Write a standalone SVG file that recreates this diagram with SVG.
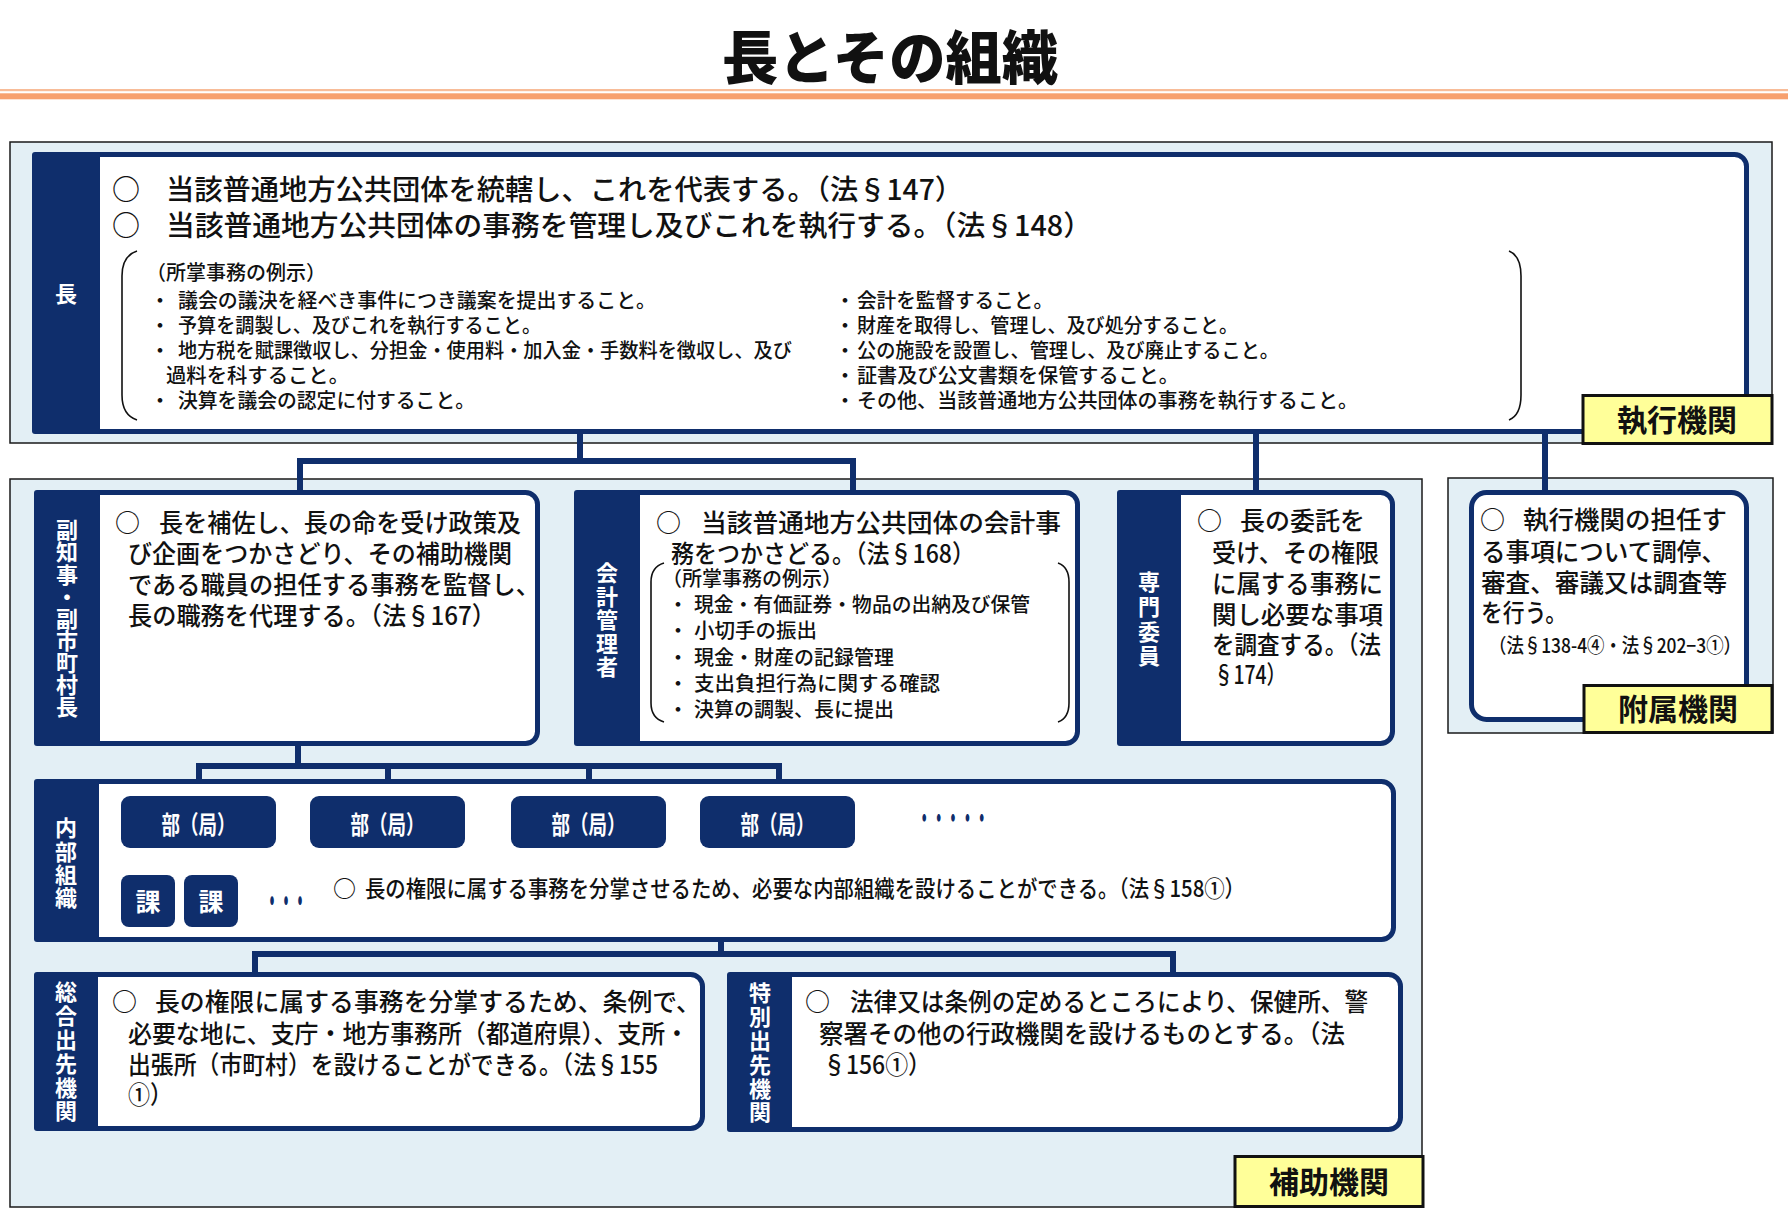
<svg xmlns="http://www.w3.org/2000/svg" width="1788" height="1226" viewBox="0 0 1788 1226">
<style>
.region{fill:#E3EFF5;stroke:#1a1a1a;stroke-width:1.5}
.card{fill:#fff;stroke:#0F2E6C;stroke-width:5}
.hdr{fill:#0F2E6C}
.box{fill:#0F2E6C}
.conn{fill:none;stroke:#0F2E6C;stroke-width:6}
.brk{fill:none;stroke:#111;stroke-width:1.6}
.lbl{fill:#FFFF99;stroke:#111;stroke-width:3}
text{font-family:"Noto Sans CJK JP","Noto Sans CJK SC",sans-serif;fill:#111;font-weight:500}
.title{font-size:58px;font-weight:900}
.f28{font-size:28px}
.f25{font-size:25px}
.f23{font-size:23px}
.f20{font-size:20px}
.vt{font-size:22px;font-weight:700;fill:#fff;text-anchor:middle}
.vv{font-size:22px;font-weight:700;fill:#fff;writing-mode:vertical-rl}
.wb{font-size:25px;font-weight:700;fill:#fff;text-anchor:middle}
.lt{font-size:30px;font-weight:700;text-anchor:middle}
.dot{font-weight:700;fill:#0F2E6C}
</style>

<!-- title -->
<text class="title" x="722" y="79" textLength="336" lengthAdjust="spacingAndGlyphs">長とその組織</text>
<rect x="0" y="89" width="1788" height="2.2" fill="#F8BC98"/>
<rect x="0" y="93.3" width="1788" height="6" fill="#F7A06E"/>

<!-- region boxes -->
<rect class="region" x="10" y="142" width="1762" height="301"/>
<rect class="region" x="10" y="479" width="1412" height="728"/>
<rect class="region" x="1448" y="478" width="325" height="255"/>

<!-- connectors -->
<g id="connectors">
<path class="conn" d="M580 434V461M300 492V461H853V492"/>
<path class="conn" d="M1256 434V492"/>
<path class="conn" d="M1545 434V492"/>
<path class="conn" d="M298 746V766M199 797V766H779V797M388 766V797M589 766V797"/>
<path class="conn" d="M200 848V862M148 876V862H212V876"/>
<path class="conn" d="M721 942V954M255 974V954H1173V974"/>
</g>

<!-- 長 -->
<g id="node-cho">
<rect class="card" x="34.5" y="154.5" width="1712" height="277" rx="12"/>
<rect class="hdr" x="32" y="152" width="68" height="282" rx="3"/>
<text class="vt" x="66" y="302">長</text>
<text class="f28"><tspan x="112" y="200">○</tspan><tspan x="166" y="200" textLength="797" lengthAdjust="spacingAndGlyphs">当該普通地方公共団体を統轄し、これを代表する。（法§147）</tspan><tspan x="112" y="236">○</tspan><tspan x="166" y="236" textLength="926" lengthAdjust="spacingAndGlyphs">当該普通地方公共団体の事務を管理し及びこれを執行する。（法§148）</tspan></text>
<path class="brk" d="M137 251Q122 256 122 276V395Q122 415 137 420"/>
<path class="brk" d="M1509 251Q1521 256 1521 276V395Q1521 415 1509 420"/>
<text class="f20"><tspan x="146" y="280" textLength="180" lengthAdjust="spacingAndGlyphs">（所掌事務の例示）</tspan><tspan x="150" y="308">・</tspan><tspan x="178" y="308" textLength="478" lengthAdjust="spacingAndGlyphs">議会の議決を経べき事件につき議案を提出すること。</tspan><tspan x="150" y="333">・</tspan><tspan x="178" y="333" textLength="363" lengthAdjust="spacingAndGlyphs">予算を調製し、及びこれを執行すること。</tspan><tspan x="150" y="358">・</tspan><tspan x="178" y="358" textLength="614" lengthAdjust="spacingAndGlyphs">地方税を賦課徴収し、分担金・使用料・加入金・手数料を徴収し、及び</tspan><tspan x="166" y="383" textLength="183" lengthAdjust="spacingAndGlyphs">過料を科すること。</tspan><tspan x="150" y="408">・</tspan><tspan x="178" y="408" textLength="297" lengthAdjust="spacingAndGlyphs">決算を議会の認定に付すること。</tspan></text>
<text class="f20"><tspan x="835" y="308">・</tspan><tspan x="857" y="308" textLength="196" lengthAdjust="spacingAndGlyphs">会計を監督すること。</tspan><tspan x="835" y="333">・</tspan><tspan x="857" y="333" textLength="381" lengthAdjust="spacingAndGlyphs">財産を取得し、管理し、及び処分すること。</tspan><tspan x="835" y="358">・</tspan><tspan x="857" y="358" textLength="422" lengthAdjust="spacingAndGlyphs">公の施設を設置し、管理し、及び廃止すること。</tspan><tspan x="835" y="383">・</tspan><tspan x="857" y="383" textLength="322" lengthAdjust="spacingAndGlyphs">証書及び公文書類を保管すること。</tspan><tspan x="835" y="408">・</tspan><tspan x="857" y="408" textLength="501" lengthAdjust="spacingAndGlyphs">その他、当該普通地方公共団体の事務を執行すること。</tspan></text>
</g>

<!-- 副知事・副市町村長 -->
<g id="node-fuku">
<rect class="card" x="36.5" y="492.5" width="501" height="251" rx="12"/>
<rect class="hdr" x="34" y="490" width="66" height="256" rx="3"/>
<text class="vv" x="67" y="519" textLength="199" lengthAdjust="spacing">副知事・副市町村長</text>
<text class="f25"><tspan x="115" y="532">○</tspan><tspan x="159" y="532" textLength="362" lengthAdjust="spacingAndGlyphs">長を補佐し、長の命を受け政策及</tspan><tspan x="128" y="563" textLength="384" lengthAdjust="spacingAndGlyphs">び企画をつかさどり、その補助機関</tspan><tspan x="128" y="594" textLength="412" lengthAdjust="spacingAndGlyphs">である職員の担任する事務を監督し、</tspan><tspan x="128" y="625" textLength="368" lengthAdjust="spacingAndGlyphs">長の職務を代理する。（法§167）</tspan></text>
</g>

<!-- 会計管理者 -->
<g id="node-kaikei">
<rect class="card" x="576.5" y="492.5" width="501" height="251" rx="12"/>
<rect class="hdr" x="574" y="490" width="66" height="256" rx="3"/>
<text class="vv" x="607" y="562" textLength="116" lengthAdjust="spacing">会計管理者</text>
<text class="f25"><tspan x="656" y="532">○</tspan><tspan x="701" y="532" textLength="360" lengthAdjust="spacingAndGlyphs">当該普通地方公共団体の会計事</tspan><tspan x="671" y="563" textLength="304" lengthAdjust="spacingAndGlyphs">務をつかさどる。（法§168）</tspan></text>
<path class="brk" d="M664 563Q651 567 651 582V703Q651 718 664 722"/>
<path class="brk" d="M1058 563Q1069 567 1069 582V703Q1069 718 1058 722"/>
<text class="f20"><tspan x="662" y="586" textLength="180" lengthAdjust="spacingAndGlyphs">（所掌事務の例示）</tspan><tspan x="668" y="612">・</tspan><tspan x="694" y="612" textLength="336" lengthAdjust="spacingAndGlyphs">現金・有価証券・物品の出納及び保管</tspan><tspan x="668" y="638">・</tspan><tspan x="694" y="638" textLength="123" lengthAdjust="spacingAndGlyphs">小切手の振出</tspan><tspan x="668" y="665">・</tspan><tspan x="694" y="665" textLength="200" lengthAdjust="spacingAndGlyphs">現金・財産の記録管理</tspan><tspan x="668" y="691">・</tspan><tspan x="694" y="691" textLength="246" lengthAdjust="spacingAndGlyphs">支出負担行為に関する確認</tspan><tspan x="668" y="717">・</tspan><tspan x="694" y="717" textLength="200" lengthAdjust="spacingAndGlyphs">決算の調製、長に提出</tspan></text>
</g>

<!-- 専門委員 -->
<g id="node-senmon">
<rect class="card" x="1119.5" y="492.5" width="273" height="251" rx="12"/>
<rect class="hdr" x="1117" y="490" width="64" height="256" rx="3"/>
<text class="vv" x="1149" y="571" textLength="96" lengthAdjust="spacing">専門委員</text>
<text class="f25"><tspan x="1197" y="530">○</tspan><tspan x="1240" y="530" textLength="125" lengthAdjust="spacingAndGlyphs">長の委託を</tspan><tspan x="1212" y="562" textLength="167" lengthAdjust="spacingAndGlyphs">受け、その権限</tspan><tspan x="1212" y="593" textLength="171" lengthAdjust="spacingAndGlyphs">に属する事務に</tspan><tspan x="1212" y="624" textLength="171" lengthAdjust="spacingAndGlyphs">関し必要な事項</tspan><tspan x="1212" y="654" textLength="169" lengthAdjust="spacingAndGlyphs">を調査する。（法</tspan><tspan x="1214" y="684" textLength="72" lengthAdjust="spacingAndGlyphs">§174）</tspan></text>
</g>

<!-- 附属機関 -->
<g id="node-fuzoku">
<rect class="card" x="1471.5" y="492.5" width="275" height="227" rx="15"/>
<text class="f25"><tspan x="1480" y="529">○</tspan><tspan x="1523" y="529" textLength="204" lengthAdjust="spacingAndGlyphs">執行機関の担任す</tspan><tspan x="1481" y="561" textLength="245" lengthAdjust="spacingAndGlyphs">る事項について調停、</tspan><tspan x="1481" y="592" textLength="246" lengthAdjust="spacingAndGlyphs">審査、審議又は調査等</tspan><tspan x="1481" y="622" textLength="86" lengthAdjust="spacingAndGlyphs">を行う。</tspan><tspan x="1489" y="653" font-size="20" textLength="252" lengthAdjust="spacingAndGlyphs">（法§138-4④・法§202−3①）</tspan></text>
</g>

<!-- 内部組織 -->
<g id="node-naibu">
<rect class="card" x="36.5" y="781.5" width="1357" height="158" rx="12"/>
<rect class="hdr" x="34" y="779" width="65" height="163" rx="3"/>
<text class="vv" x="66" y="817" textLength="92" lengthAdjust="spacing">内部組織</text>
<text class="f23"><tspan x="333" y="897">○</tspan><tspan x="365" y="897" textLength="880" lengthAdjust="spacingAndGlyphs">長の権限に属する事務を分掌させるため、必要な内部組織を設けることができる。（法§158①）</tspan></text>
<text class="dot" x="917" y="829" font-size="30" textLength="72" lengthAdjust="spacingAndGlyphs">・・・・・</text>
<text class="dot" x="265" y="914" font-size="34" textLength="42" lengthAdjust="spacingAndGlyphs">・・・</text>
</g>

<g id="node-bu1"><rect class="box" x="121" y="796" width="155" height="52" rx="9"/><text class="wb" x="198.5" y="834" textLength="74" lengthAdjust="spacingAndGlyphs">部（局）</text></g>
<g id="node-bu2"><rect class="box" x="310" y="796" width="155" height="52" rx="9"/><text class="wb" x="387.5" y="834" textLength="74" lengthAdjust="spacingAndGlyphs">部（局）</text></g>
<g id="node-bu3"><rect class="box" x="511" y="796" width="155" height="52" rx="9"/><text class="wb" x="588.5" y="834" textLength="74" lengthAdjust="spacingAndGlyphs">部（局）</text></g>
<g id="node-bu4"><rect class="box" x="700" y="796" width="155" height="52" rx="9"/><text class="wb" x="777.5" y="834" textLength="74" lengthAdjust="spacingAndGlyphs">部（局）</text></g>
<g id="node-ka1"><rect class="box" x="121" y="875" width="54" height="52" rx="8"/><text class="wb" x="148" y="911">課</text></g>
<g id="node-ka2"><rect class="box" x="184" y="875" width="54" height="52" rx="8"/><text class="wb" x="211" y="911">課</text></g>

<!-- 総合出先機関 -->
<g id="node-sogo">
<rect class="card" x="36.5" y="974.5" width="666" height="154" rx="12"/>
<rect class="hdr" x="34" y="972" width="64" height="159" rx="3"/>
<text class="vv" x="66" y="981" textLength="141" lengthAdjust="spacing">総合出先機関</text>
<text class="f25"><tspan x="112" y="1011">○</tspan><tspan x="155" y="1011" textLength="546" lengthAdjust="spacingAndGlyphs">長の権限に属する事務を分掌するため、条例で、</tspan><tspan x="128" y="1043" textLength="561" lengthAdjust="spacingAndGlyphs">必要な地に、支庁・地方事務所（都道府県）、支所・</tspan><tspan x="128" y="1074" textLength="530" lengthAdjust="spacingAndGlyphs">出張所（市町村）を設けることができる。（法§155</tspan><tspan x="128" y="1104" textLength="44" lengthAdjust="spacingAndGlyphs">①）</tspan></text>
</g>

<!-- 特別出先機関 -->
<g id="node-tokubetsu">
<rect class="card" x="729.5" y="974.5" width="671" height="155" rx="12"/>
<rect class="hdr" x="727" y="972" width="65" height="160" rx="3"/>
<text class="vv" x="760" y="982" textLength="141" lengthAdjust="spacing">特別出先機関</text>
<text class="f25"><tspan x="805" y="1011">○</tspan><tspan x="850" y="1011" textLength="518" lengthAdjust="spacingAndGlyphs">法律又は条例の定めるところにより、保健所、警</tspan><tspan x="819" y="1043" textLength="526" lengthAdjust="spacingAndGlyphs">察署その他の行政機関を設けるものとする。（法</tspan><tspan x="823" y="1074" textLength="108" lengthAdjust="spacingAndGlyphs">§156①）</tspan></text>
</g>

<!-- labels -->
<g id="label-shikko"><rect class="lbl" x="1583" y="395.5" width="189" height="48"/><text class="lt" x="1677" y="431">執行機関</text></g>
<g id="label-fuzoku"><rect class="lbl" x="1584" y="685.5" width="188" height="47"/><text class="lt" x="1678" y="720">附属機関</text></g>
<g id="label-hojo"><rect class="lbl" x="1235" y="1156.5" width="188" height="50"/><text class="lt" x="1329" y="1193">補助機関</text></g>
</svg>
